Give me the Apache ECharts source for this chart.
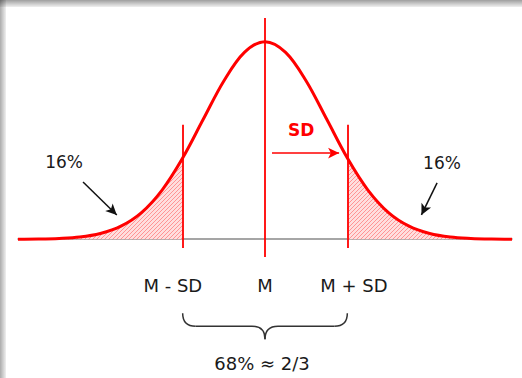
<!DOCTYPE html>
<html>
<head>
<meta charset="utf-8">
<script src="https://cdn.jsdelivr.net/npm/echarts@6/dist/echarts.min.js"></script>
<style>
  html, body { margin: 0; padding: 0; background: #fff; }
  #chart { width: 522px; height: 378px; }
</style>
</head>
<body>
<div id="chart"></div>
<script>
// curve: x in SD units from the mean, y relative to the peak (=100)
var curveX = [-3, -2.75, -2.5, -2.25, -2, -1.75, -1.5, -1.25, -1, -0.75, -0.5, -0.25, 0,
              0.25, 0.5, 0.75, 1, 1.25, 1.5, 1.75, 2, 2.25, 2.5, 2.75, 3];
var curveY = [0, 0.1, 0.4, 1.1, 2.9, 6.6, 13.5, 24.9, 41.1, 60.7, 80.1, 94.6, 100,
              94.6, 80.1, 60.7, 41.1, 24.9, 13.5, 6.6, 2.9, 1.1, 0.4, 0.1, 0];

// labels under the axis
var tickValues = [-1.12, 0, 1.08];
var tickLabels = ['M - SD', 'M', 'M + SD'];

// vertical reference lines
var sdX = [-1, 1];
var sdLineY = [-4.5, 58];
var meanX = 0;
var meanLineY = [-9, 112];

// annotations
var noteLabels = ['16%', '16%', 'SD'];
var noteX = [-2.44, 2.15, 0.44];
var noteY = [39, 38.6, 55.3];
var arrowFrom = [[-2.21, 29], [2.09, 28.5], [0.085, 43.6]];
var arrowTo = [[-1.80, 12.3], [1.90, 12.3], [0.90, 43.6]];
var spanLabel = '68% ≈ 2/3';

var RED = '#ff0000';
var TEXT = '#1a1a1a';
var FONT = '"DejaVu Sans", sans-serif';

var points = curveX.map(function (x, i) { return [x, curveY[i]]; });
var leftTail = points.filter(function (p) { return p[0] <= sdX[0]; });
var rightTail = points.filter(function (p) { return p[0] >= sdX[1]; });

// pink diagonal hatching for the tails (small svg tile)
var hatchTile = "data:image/svg+xml;utf8," + encodeURIComponent(
  "<svg xmlns='http://www.w3.org/2000/svg' width='4' height='4'>" +
  "<rect width='4' height='4' fill='#ffdede'/>" +
  "<path d='M0,4 L4,0 M-1,1 L1,-1 M3,5 L5,3' stroke='#ff9494' stroke-width='1'/></svg>");

function tailSeries(data) {
  return {
    type: 'line',
    data: data,
    smooth: 0.35,
    symbol: 'none',
    silent: true,
    color: RED,
    lineStyle: { width: 0, color: RED },
    areaStyle: { color: { image: hatchTile, repeat: 'repeat' }, opacity: 1 },
    z: 1
  };
}

var refLines = sdX.map(function (x) {
  return [{ coord: [x, sdLineY[0]] }, { coord: [x, sdLineY[1]] }];
});
refLines.push([{ coord: [meanX, meanLineY[0]] }, { coord: [meanX, meanLineY[1]] }]);

var arrows = arrowFrom.map(function (from, i) {
  var c = noteLabels[i] === 'SD' ? RED : '#111';
  return [
    { coord: from, lineStyle: { color: c, width: 1.5, type: 'solid' }, symbol: 'none' },
    { coord: arrowTo[i], lineStyle: { color: c, width: 1.5, type: 'solid' }, symbol: 'arrow' }
  ];
});

var chart = echarts.init(document.getElementById('chart'), null, { renderer: 'svg' });

var option = {
  animation: false,
  backgroundColor: '#fff',
  grid: { left: 18, right: 10, top: 18, bottom: 121 },
  xAxis: {
    type: 'value',
    min: -3,
    max: 3,
    axisLine: { show: true, onZero: true, lineStyle: { color: '#888', width: 1.5 } },
    axisTick: { show: false },
    splitLine: { show: false },
    axisLabel: {
      customValues: tickValues,
      margin: 19,
      fontSize: 18,
      fontFamily: FONT,
      color: TEXT,
      formatter: function (v) {
        var i = tickValues.indexOf(v);
        return i >= 0 ? tickLabels[i] : '';
      }
    }
  },
  yAxis: {
    type: 'value',
    min: -9,
    max: 112,
    show: false,
    splitLine: { show: false }
  },
  series: [
    tailSeries(leftTail),
    tailSeries(rightTail),
    {
      type: 'line',
      data: points,
      smooth: 0.35,
      symbol: 'none',
      silent: true,
      lineStyle: { color: RED, width: 3 },
      z: 3,
      markLine: {
        silent: true,
        symbol: ['none', 'none'],
        label: { show: false },
        lineStyle: { color: RED, width: 2, type: 'solid', opacity: 0.9 },
        data: refLines
      }
    },
    {
      type: 'line',
      data: [],
      silent: true,
      z: 4,
      markLine: {
        silent: true,
        symbolSize: [8, 11],
        label: { show: false },
        data: arrows
      }
    }
  ]
};

chart.setOption(option);

function px(x, y) { return chart.convertToPixel({ gridIndex: 0 }, [x, y]); }

var graphics = [
  // frame shadow at top and left
  {
    type: 'rect', shape: { x: 0, y: 0, width: 522, height: 7 }, silent: true, z: 10,
    style: { fill: new echarts.graphic.LinearGradient(0, 0, 0, 1, [
      { offset: 0, color: 'rgba(0,0,0,0.38)' }, { offset: 1, color: 'rgba(0,0,0,0.06)' }]) }
  },
  {
    type: 'rect', shape: { x: 0, y: 0, width: 6, height: 378 }, silent: true, z: 10,
    style: { fill: new echarts.graphic.LinearGradient(0, 0, 1, 0, [
      { offset: 0, color: 'rgba(0,0,0,0.33)' }, { offset: 1, color: 'rgba(0,0,0,0.06)' }]) }
  }
];

noteLabels.forEach(function (t, i) {
  var p = px(noteX[i], noteY[i]);
  var isSD = t === 'SD';
  graphics.push({
    type: 'text', silent: true, z: 5,
    style: {
      text: t, x: p[0], y: p[1], align: 'center', verticalAlign: 'middle',
      fill: isSD ? RED : TEXT, fontSize: 17,
      fontWeight: isSD ? 'bold' : 'normal', fontFamily: FONT
    }
  });
});

// brace under the M - SD .. M + SD span
var base = px(meanX, 0)[1];
var xl = px(sdX[0], 0)[0], xr = px(sdX[1], 0)[0], xm = px(meanX, 0)[0];
var y0 = base + 74, y1 = base + 87, y2 = base + 100;
var r = 13;
var braceStyle = { fill: null, stroke: '#333', lineWidth: 1.5 };
function curve(x1, yA, cx, cy, x2, yB) {
  return { type: 'bezierCurve', silent: true, z: 5, style: braceStyle,
           shape: { x1: x1, y1: yA, cpx1: cx, cpy1: cy, x2: x2, y2: yB } };
}
function seg(x1, yA, x2, yB) {
  return { type: 'line', silent: true, z: 5, style: braceStyle,
           shape: { x1: x1, y1: yA, x2: x2, y2: yB } };
}
graphics.push(curve(xl, y0, xl, y1, xl + r, y1));
graphics.push(seg(xl + r, y1, xm - r, y1));
graphics.push(curve(xm - r, y1, xm, y1, xm, y2));
graphics.push(curve(xm, y2, xm, y1, xm + r, y1));
graphics.push(seg(xm + r, y1, xr - r, y1));
graphics.push(curve(xr - r, y1, xr, y1, xr, y0));
graphics.push({
  type: 'text', silent: true, z: 5,
  style: {
    text: spanLabel, x: xm - 3, y: base + 124, align: 'center', verticalAlign: 'middle',
    fill: TEXT, fontSize: 18, fontFamily: FONT
  }
});

chart.setOption({ graphic: graphics });
</script>
</body>
</html>
